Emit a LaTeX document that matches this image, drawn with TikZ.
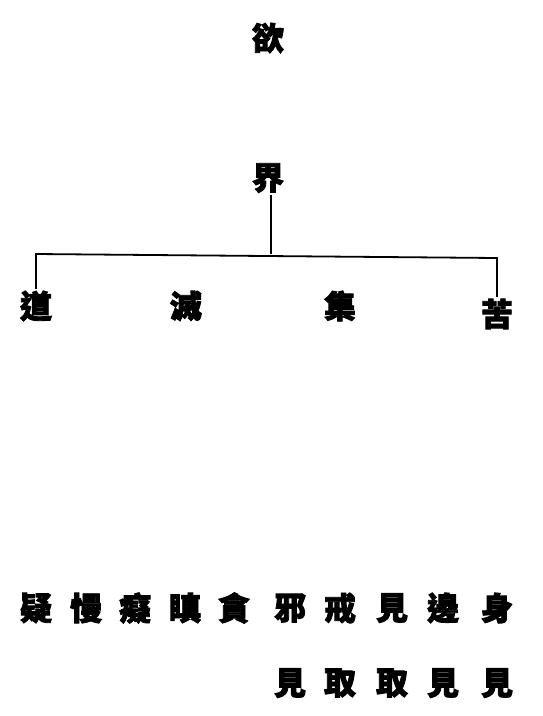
\documentclass[tikz,border=0pt]{standalone}
\usepackage{fontspec}
\newfontfamily\cjk[FakeBold=2.5]{Noto Sans CJK TC}
\usetikzlibrary{positioning, calc}

\begin{document}
\begin{tikzpicture}[x=1pt,y=-1pt,line width=1.8pt]
	\tikzset{zi/.style={font=\cjk\bfseries\fontsize{32}{32}\selectfont, inner sep=1pt}}
	\useasboundingbox (0,0) rectangle (542,716);
	\node[zi] (yu) at (268,38) {欲};
	\node[zi] (jie) at (268,178) {界};
	\node[zi] (dao) at (36,306) {道};
	\node[zi] (mie) at (186,306) {滅};
	\node[zi] (ji) at (340,306) {集};
	\node[zi] (ku) at (497,314) {苦};
	\coordinate (barL) at (36,254);
	\coordinate (barR) at (497,258);
	% ten afflictions
	\node[zi] (yi) at (36,608) {疑};
	\node[zi] (man) at (86,608) {慢};
	\node[zi] (chi) at (135,608) {癡};
	\node[zi] (chen) at (185,608) {瞋};
	\node[zi] (tan) at (234,608) {貪};
	\node[zi] (xie) at (290,608) {邪};
	\node[zi] (jie2) at (340,608) {戒};
	\node[zi] (jian) at (392,608) {見};
	\node[zi] (bian) at (443,608) {邊};
	\node[zi] (shen) at (497,608) {身};
	\node[zi] (xieB) at (290,683) {見};
	\node[zi] (jie2B) at (340,683) {取};
	\node[zi] (jianB) at (392,683) {取};
	\node[zi] (bianB) at (443,683) {見};
	\node[zi] (shenB) at (497,683) {見};
	\draw ([xshift=3pt]jie.south) -- ([xshift=3pt]jie.south |- barL);
	\draw (dao) -- (barL) -- (barR) -- (ku);
\end{tikzpicture}
\end{document}
